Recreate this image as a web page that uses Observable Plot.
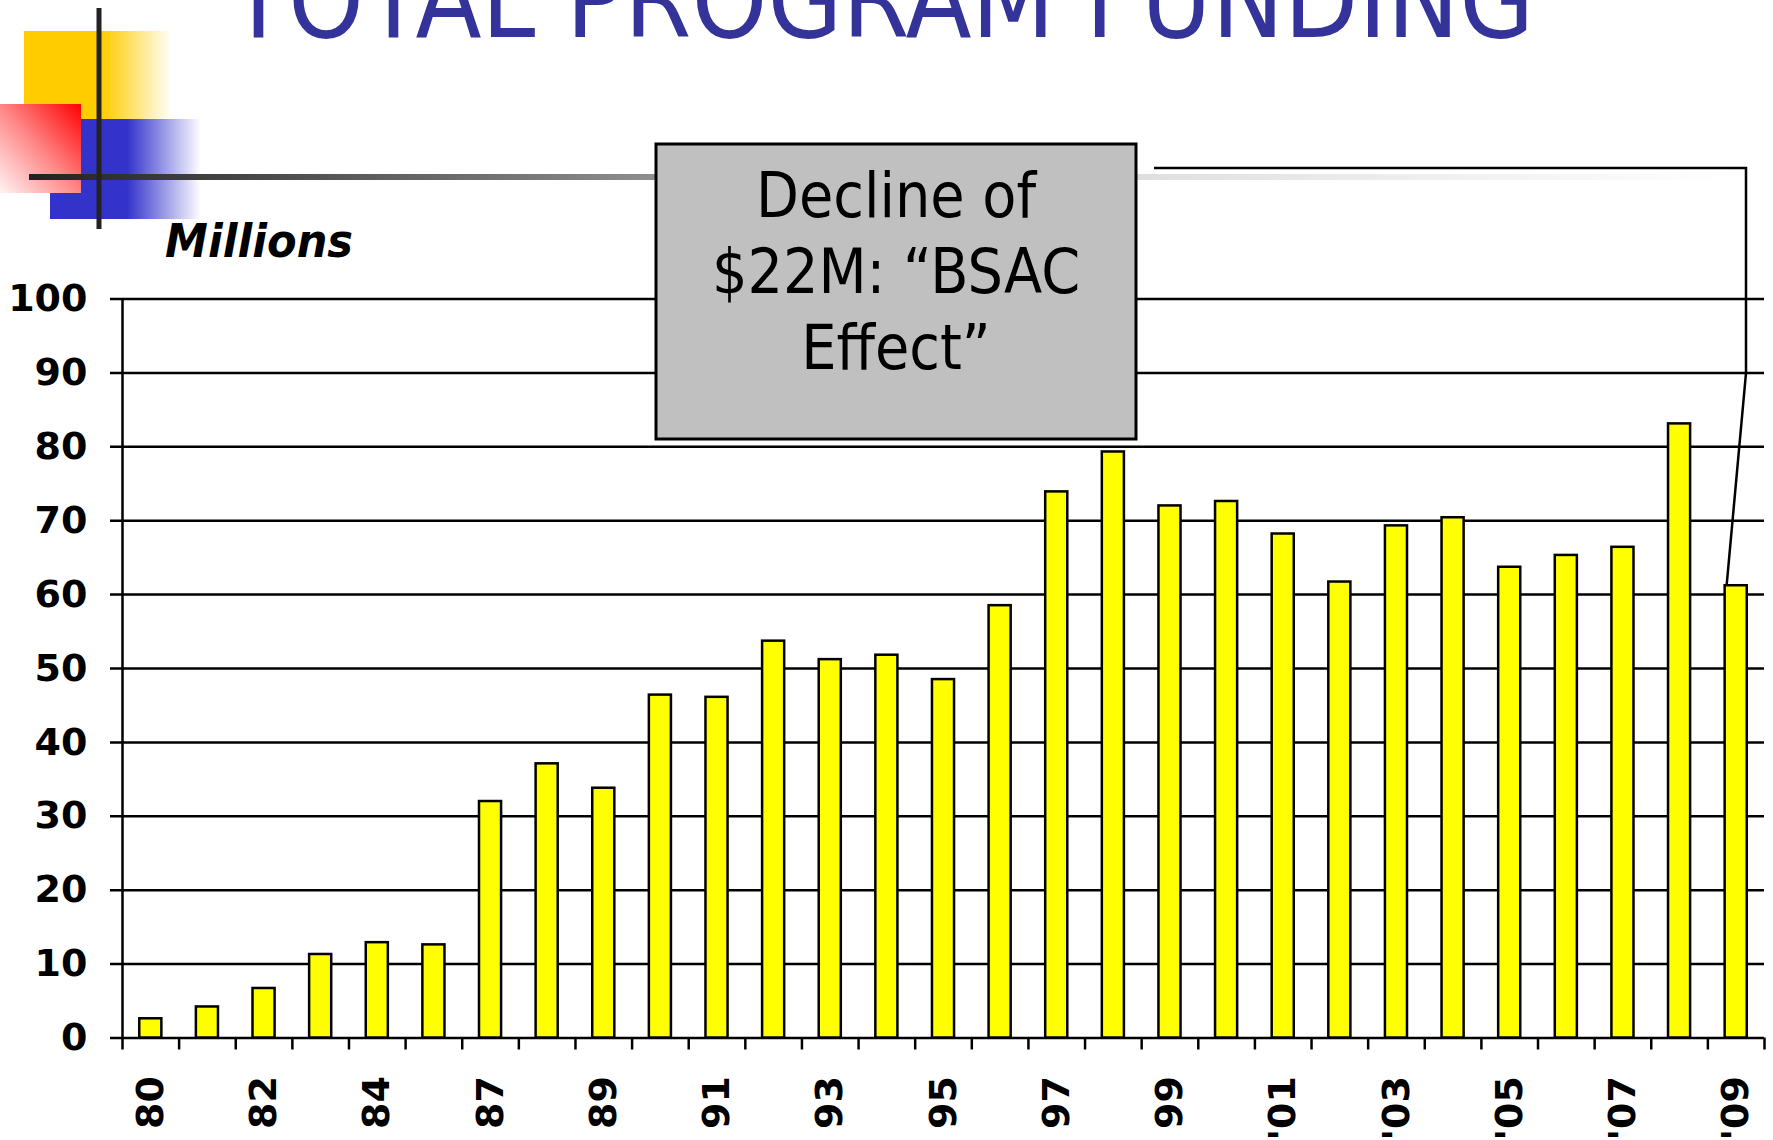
<!DOCTYPE html>
<html><head><meta charset="utf-8">
<script src="https://cdn.jsdelivr.net/npm/d3@7"></script>
<script src="https://cdn.jsdelivr.net/npm/@observablehq/plot@0.6"></script>
<style>
html,body{margin:0;padding:0;background:#fff;}
#wrap{position:relative;width:1773px;height:1140px;overflow:hidden;background:#fff;}
#wrap svg{position:absolute;left:0;top:0;}
</style></head><body><div id="wrap"></div>
<script>
// ---- data ----
const years = ["80","81","82","83","84","85","87","88","89","90","91","92","93","94","95","96","97","98","99","00","'01","'02","'03","'04","'05","'06","'07","'08","'09"];
const funding = [2.6,4.2,6.7,11.3,12.9,12.6,32.0,37.1,33.8,46.4,46.1,53.7,51.2,51.8,48.5,58.5,73.9,79.3,72.0,72.6,68.2,61.7,69.3,70.4,63.7,65.3,66.4,83.1,61.2];
const labelYears = ["80","82","84","87","89","91","93","95","97","99","'01","'03","'05","'07","'09"];
const yTicks = [0,10,20,30,40,50,60,70,80,90,100];
const titleText = "TOTAL PROGRAM FUNDING";
const unitLabel = "Millions";
const noteLines = ["Decline of", "$22M: \u201CBSAC", "Effect\u201D"];

const data = years.map((year, i) => ({year, value: funding[i]}));
const W = 1773, H = 1140, mL = 122, mR = 9, mT = 298.5, mB = 102.5;
const step = (W - mL - mR) / years.length;

const chart = Plot.plot({
  width: W, height: H,
  marginLeft: mL, marginRight: mR, marginTop: mT, marginBottom: mB,
  style: {fontFamily: "'DejaVu Sans', Verdana, sans-serif", background: "transparent", overflow: "visible", color: "black"},
  x: {type: "band", domain: years, paddingInner: 0.61, paddingOuter: 0.305, align: 0.5, round: false},
  y: {domain: [0, 100]},
  marks: [
    Plot.ruleY(yTicks, {stroke: "black", strokeWidth: 2.5, insetLeft: -12}),
    Plot.ruleX([years[0]], {y1: 0, y2: 100, dx: -step / 2, stroke: "black", strokeWidth: 2.5}),
    Plot.ruleX(years, {y1: 0, y2: 0, insetBottom: -12, dx: -step / 2, stroke: "black", strokeWidth: 2.5}),
    Plot.ruleX([years[years.length - 1]], {y1: 0, y2: 0, insetBottom: -12, dx: step / 2, stroke: "black", strokeWidth: 2.5}),
    Plot.barY(data, {x: "year", y: "value", fill: "#FFFF00", stroke: "black", strokeWidth: 2.5}),
    Plot.axisY({ticks: yTicks, tickSize: 0, tickPadding: 35, fontSize: 38, fontWeight: "bold", label: null}),
    Plot.axisX({ticks: labelYears, tickSize: 0, tickPadding: 38, tickRotate: -90, fontSize: 38, fontWeight: "bold", label: null})
  ]
});
document.getElementById("wrap").appendChild(chart);

// ---- overlay: slide decoration, title, unit label, annotation ----
const svg = d3.select("#wrap").append("svg").attr("width", W).attr("height", H).style("pointer-events", "none");
const defs = svg.append("defs");
function lg(id, x1, y1, x2, y2, stops) {
  const g = defs.append("linearGradient").attr("id", id)
    .attr("x1", x1).attr("y1", y1).attr("x2", x2).attr("y2", y2);
  stops.forEach(([o, c, op]) => g.append("stop").attr("offset", o).attr("stop-color", c).attr("stop-opacity", op ?? 1));
}
lg("gYellow", 0, 0, 1, 0, [[0, "#FFCC00"], [0.53, "#FFCC00"], [1, "#FFCC00", 0]]);
lg("gBlue", 0, 0, 1, 0, [[0, "#3333CC"], [0.51, "#3333CC"], [1, "#3333CC", 0]]);
lg("gRed", 1, 0, 0, 1, [[0, "#FF0000"], [0.5, "#FF8585"], [1, "#FFF4F4"]]);
lg("gLine", 0, 0, 1, 0, [[0, "#222222"], [0.37, "#8f8f8f"], [0.66, "#e0e0e0"], [1, "#ffffff"]]);

svg.append("rect").attr("x", 24).attr("y", 31).attr("width", 148).attr("height", 88).attr("fill", "url(#gYellow)");
svg.append("rect").attr("x", 50).attr("y", 119).attr("width", 151).attr("height", 100).attr("fill", "url(#gBlue)");
svg.append("rect").attr("x", 0).attr("y", 104).attr("width", 81).attr("height", 89).attr("fill", "url(#gRed)");
svg.append("rect").attr("x", 29).attr("y", 174).attr("width", 1701).attr("height", 6).attr("fill", "url(#gLine)");
svg.append("rect").attr("x", 96.5).attr("y", 8).attr("width", 5).attr("height", 221).attr("fill", "#222");

svg.append("text").attr("x", 229).attr("y", 37)
  .attr("font-family", "'DejaVu Sans', sans-serif").attr("font-size", 108).attr("fill", "#333399")
  .attr("textLength", 1305).attr("lengthAdjust", "spacingAndGlyphs").text(titleText);

svg.append("text").attr("x", 165).attr("y", 257)
  .attr("font-family", "'DejaVu Sans', sans-serif").attr("font-size", 47).attr("font-weight", "bold").attr("font-style", "italic")
  .attr("textLength", 188).attr("lengthAdjust", "spacingAndGlyphs").attr("fill", "black").text(unitLabel);

// callout leader to the last bar
const xs = chart.scale("x"), ys = chart.scale("y");
const xEnd = xs.apply(years[years.length - 1]) + 2;
const yEnd = ys.apply(funding[funding.length - 1]);
svg.append("polyline").attr("points", `1154,168 1746,168 1746,373 ${xEnd},${yEnd}`)
  .attr("fill", "none").attr("stroke", "black").attr("stroke-width", 2.5);

svg.append("rect").attr("x", 656).attr("y", 144).attr("width", 480).attr("height", 295)
  .attr("fill", "#C0C0C0").attr("stroke", "black").attr("stroke-width", 3);
const tg = svg.append("g").attr("transform", "translate(896,0) scale(0.9,1)");
noteLines.forEach((t, i) => {
  tg.append("text").attr("x", 0).attr("y", 217 + i * 76).attr("text-anchor", "middle")
    .attr("font-family", "'DejaVu Sans', sans-serif").attr("font-size", 62).attr("fill", "black").text(t);
});
</script></body></html>
